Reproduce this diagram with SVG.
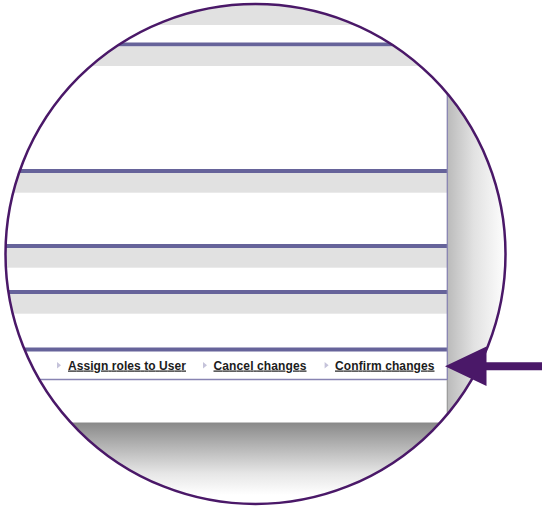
<svg xmlns="http://www.w3.org/2000/svg" width="542" height="506" viewBox="0 0 542 506">
<defs>
<clipPath id="lens"><circle cx="255.5" cy="254" r="250"/></clipPath>
<linearGradient id="shR" x1="0" y1="0" x2="1" y2="0">
<stop offset="0" stop-color="#bababa"/>
<stop offset="0.45" stop-color="#e2e2e2"/>
<stop offset="1" stop-color="#ffffff"/>
</linearGradient>
<linearGradient id="shB" x1="0" y1="0" x2="0" y2="1">
<stop offset="0" stop-color="#8a8a8a"/>
<stop offset="0.35" stop-color="#b8b8b8"/>
<stop offset="0.7" stop-color="#e6e6e6"/>
<stop offset="1" stop-color="#ffffff"/>
</linearGradient>
<style>
.bar{fill:#66639a}
.band{fill:#e1e1e1}
.lnk{font-family:"Liberation Sans",Arial,sans-serif;font-size:12px;font-weight:bold;fill:#1c1c1c;text-decoration:underline}
.tri{fill:#c5c3da}
.edge{stroke:#8884b2;stroke-width:1.3;fill:none}
</style>
</defs>
<rect width="542" height="506" fill="#ffffff"/>
<g id="lens-content" clip-path="url(#lens)">
<rect x="447" y="0" width="60" height="440" fill="url(#shR)"/>
<rect x="0" y="423" width="447" height="72" fill="url(#shB)"/>
<g id="page">
<rect x="0" y="0" width="447" height="423" fill="#ffffff"/>
<rect class="band" x="0" y="0" width="447" height="25"/>
<rect class="bar" x="0" y="42.5" width="447" height="4"/>
<rect class="band" x="0" y="46.5" width="447" height="19.5"/>
<rect class="bar" x="0" y="169" width="447" height="4"/>
<rect class="band" x="0" y="173" width="447" height="19.7"/>
<rect class="bar" x="0" y="244" width="447" height="4"/>
<rect class="band" x="0" y="248" width="447" height="19.7"/>
<rect class="bar" x="0" y="290" width="447" height="4"/>
<rect class="band" x="0" y="294" width="447" height="19.7"/>
<rect class="bar" x="0" y="347.5" width="447" height="4"/>
<line class="edge" x1="0" y1="379.5" x2="447" y2="379.5"/>
<line class="edge" x1="447.3" y1="0" x2="447.3" y2="380"/>
<line x1="447.3" y1="380" x2="447.3" y2="423" stroke="#9a9a9a" stroke-width="1.2"/>
<line x1="0" y1="423" x2="447.8" y2="423" stroke="#8a8a8a" stroke-width="1"/>
</g>
<g id="link-assign">
<polygon class="tri" points="57,362 61,365.2 57,368.5"/>
<text class="lnk" x="68" y="369.5" textLength="118" lengthAdjust="spacing">Assign roles to User</text>
</g>
<g id="link-cancel">
<polygon class="tri" points="203,362 207,365.2 203,368.5"/>
<text class="lnk" x="213.5" y="369.5" textLength="93" lengthAdjust="spacing">Cancel changes</text>
</g>
<g id="link-confirm">
<polygon class="tri" points="324.6,362 328.6,365.2 324.6,368.5"/>
<text class="lnk" x="335" y="369.5" textLength="99.5" lengthAdjust="spacing">Confirm changes</text>
</g>
</g>
<circle id="lens-ring" cx="255.5" cy="254" r="250" fill="none" stroke="#4a1868" stroke-width="2.5"/>
<g id="connectors">
<polygon points="445,366.3 486.5,346.5 486.5,362.3 542,362.3 542,370.3 486.5,370.3 486.5,386" fill="#4a1868"/>
</g>
</svg>
